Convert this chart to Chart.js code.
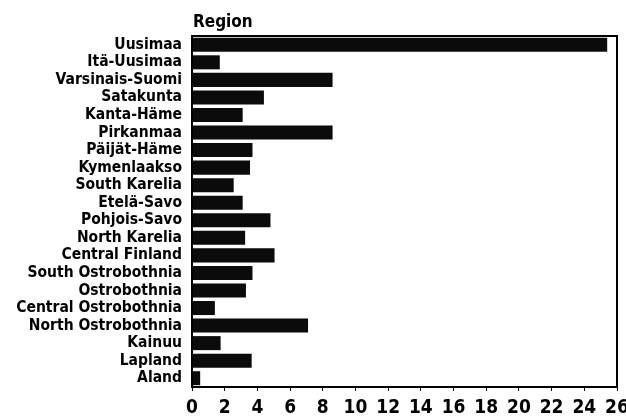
<!DOCTYPE html>
<html>
<head>
<meta charset="utf-8">
<script src="https://cdn.jsdelivr.net/npm/chart.js@4"></script>
<style>
html,body{margin:0;padding:0;background:#fff;}
#wrap{position:relative;width:626px;height:417px;}
</style>
</head>
<body>
<div id="wrap"><canvas id="c" width="626" height="417"></canvas></div>
<script>
const categories = ["Uusimaa","Itä-Uusimaa","Varsinais-Suomi","Satakunta","Kanta-Häme","Pirkanmaa","Päijät-Häme","Kymenlaakso","South Karelia","Etelä-Savo","Pohjois-Savo","North Karelia","Central Finland","South Ostrobothnia","Ostrobothnia","Central Ostrobothnia","North Ostrobothnia","Kainuu","Lapland","Aland"];
const values = [25.4,1.7,8.6,4.4,3.1,8.6,3.7,3.55,2.55,3.1,4.8,3.25,5.05,3.7,3.3,1.4,7.1,1.75,3.65,0.5];
const xTicks = [0,2,4,6,8,10,12,14,16,18,20,22,24,26];
const titleText = "Region";

const FONT = "'Liberation Sans Narrow','DejaVu Sans Condensed','Arial Narrow',sans-serif";

const framePlugin = {
  id: 'frame',
  afterDraw(chart) {
    const {ctx, chartArea: a} = chart;
    ctx.save();
    ctx.strokeStyle = '#000';
    ctx.lineWidth = 2;
    ctx.strokeRect(a.left, a.top, a.right - a.left, a.bottom - a.top);
    ctx.fillStyle = '#000';
    ctx.font = "bold 17px " + FONT;
    ctx.textAlign = 'left';
    ctx.textBaseline = 'bottom';
    ctx.fillText(titleText, a.left + 1, a.top - 5);
    ctx.restore();
  }
};

new Chart(document.getElementById('c'), {
  type: 'bar',
  data: {
    labels: categories,
    datasets: [{
      data: values,
      backgroundColor: '#0b0b0b',
      borderWidth: 0,
      barPercentage: 0.8,
      categoryPercentage: 1.0
    }]
  },
  options: {
    indexAxis: 'y',
    responsive: false,
    animation: false,
    devicePixelRatio: 1,
    layout: { padding: { top: 36, right: 9, bottom: 0, left: 0 } },
    plugins: { legend: { display: false }, tooltip: { enabled: false } },
    scales: {
      x: {
        type: 'linear',
        min: 0, max: 26,
        afterBuildTicks(scale) { scale.ticks = xTicks.map(v => ({value: v})); },
        afterFit(scale) { scale.height = 30; scale.paddingRight = 0; scale.paddingLeft = 0; },
        grid: { display: true, drawOnChartArea: false, drawTicks: true, tickLength: 4, color: '#000' },
        border: { display: false },
        ticks: { color: '#000', padding: 6, maxRotation: 0, autoSkip: false, font: { family: FONT, size: 19, weight: 'bold' } }
      },
      y: {
        afterFit(scale) { scale.width = 192; },
        grid: { display: false, drawTicks: false },
        border: { display: false },
        ticks: { color: '#000', padding: 10, autoSkip: false, font: { family: FONT, size: 15.5, weight: 'bold', lineHeight: 1 } }
      }
    }
  },
  plugins: [framePlugin]
});
</script>
</body>
</html>
